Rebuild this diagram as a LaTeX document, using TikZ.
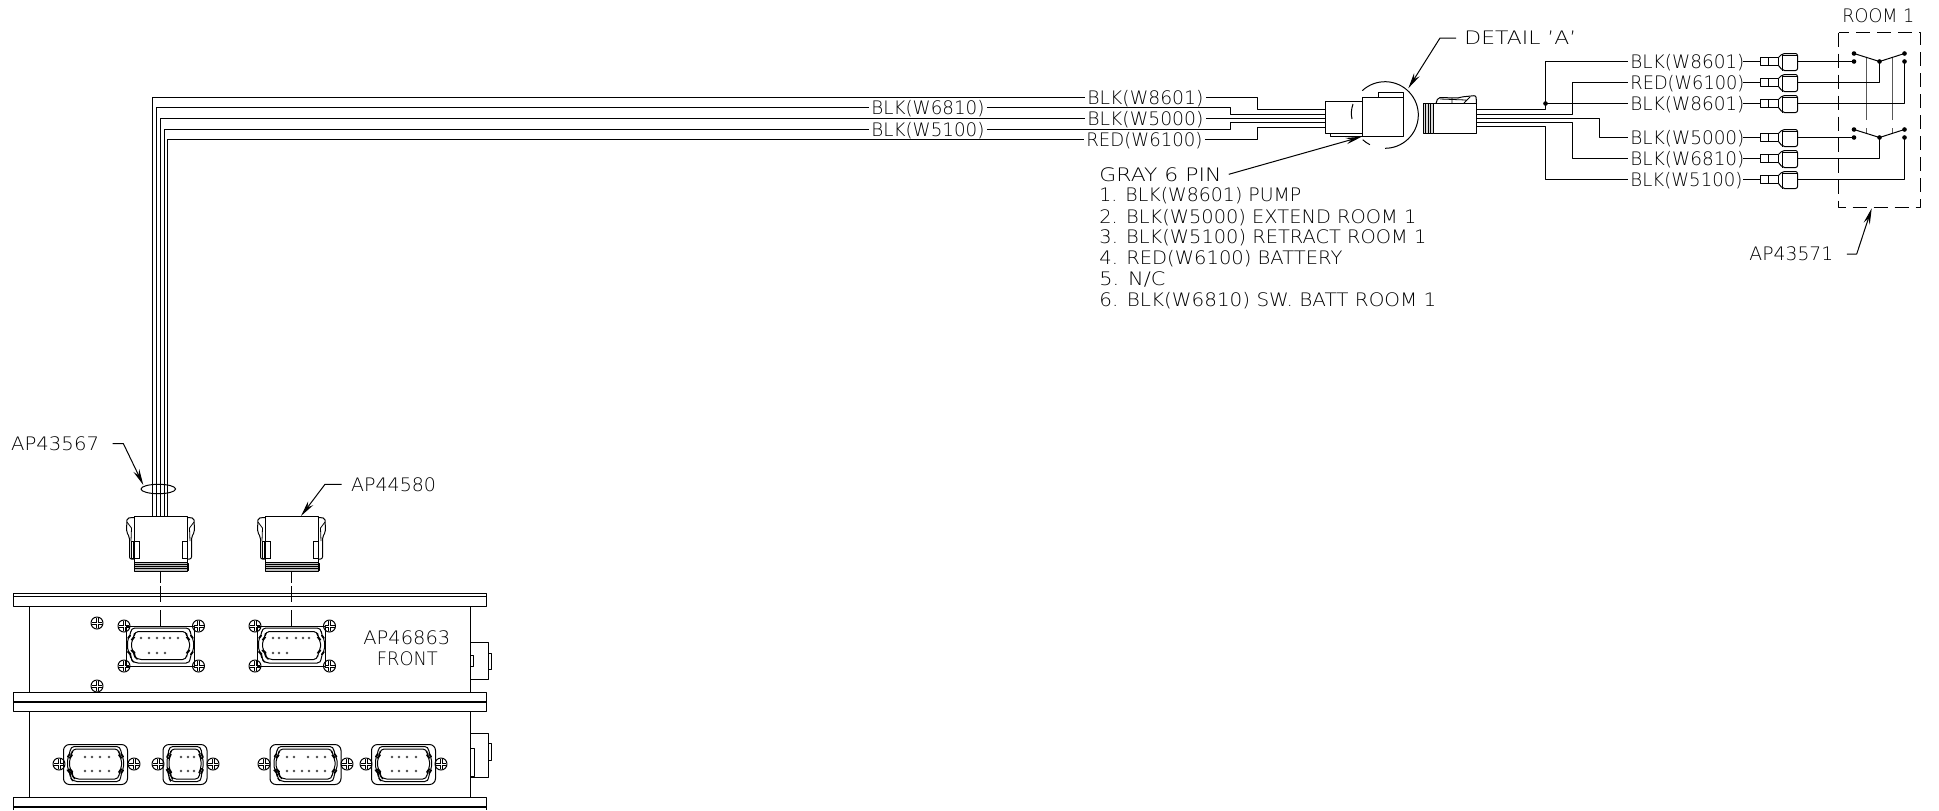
\documentclass[tikz,border=0pt]{standalone}
\usepackage{fontspec}
\usepackage{graphicx}
\setmainfont{DejaVu Sans ExtraLight}
\usetikzlibrary{arrows.meta}
\newlength\fitw
\newcommand\fit[2]{\setlength{\fitw}{\dimexpr #1pt/2\relax}\resizebox{\fitw}{\height}{#2}}
\tikzset{
 ln/.style={line width=0.5pt,line join=round},
 thin line/.style={line width=0.4pt},
 lbl/.style={inner sep=1pt,text height=6.75pt,text depth=0pt,anchor=west,xshift=-1pt,font=\fontsize{9.3}{10}\selectfont},
 leader/.style={ln,-{Stealth[length=8pt,width=3.2pt]}},
 pin/.style={fill=black!70,draw=none},
 jdot/.style={fill=black,draw=none},
 link/.style={line width=0.6pt,black!65},
 center dash/.style={ln},
}
% panel screw
\newcommand\screw[2]{%
 \draw[ln] (#1,#2) circle (6);
 \foreach \sx/\sy in {1/1,1/-1,-1/1,-1/-1}{
  \draw[thin line] (#1+\sx*5,#2+\sy*1) -- (#1+\sx*1,#2+\sy*1) -- (#1+\sx*1,#2+\sy*5);}
}
% contour in unit coordinates
\newcommand\contour[5]{% cx cy sx sy
 \begin{scope}[shift={(#1,#2)},xscale=#3,yscale=#4]
 \draw[ln,rounded corners=#5pt] (-.9,-1) -- (.9,-1) -- (.9,-.58) -- (1,-.42) -- (1,.36) -- (.9,.52) -- (.9,1) -- (-.8,1) -- (-.9,.78) -- (-.9,.48) -- (-1,.36) -- (-1,-.42) -- (-.9,-.58) -- cycle;
 \end{scope}}
% plug seen from the side
\newcommand\plug[1]{%
 \begin{scope}[shift={(#1,0)}]
 \draw[ln] (-26.5,516.5) rectangle (26.5,562.5);
 \draw[line width=.9pt] (-26.5,516.5) -- (26.5,516.5);
 \foreach \m in {-1,1}{
  \begin{scope}[xscale=\m]
  \draw[ln,rounded corners=1pt] (26.5,517.5) -- (33.5,518) -- (34,532) -- (31,537) -- (31,559) -- (26.5,559);
  \draw[thin line] (33.5,522) -- (29,528) -- (29.5,541);
  \draw[thin line] (21.5,541.5) rectangle (27,558.5);
  \end{scope}}
 \draw[ln] (-29.5,541.5) rectangle (-21.5,558.5);
 \draw[ln,fill=black!25] (-26.5,562.5) rectangle (26.5,571);
 \foreach \yy in {564.5,566.5,568.5}{\draw[ln] (-26.5,\yy) -- (26.5,\yy);}
 \draw[ln] (26.5,563) -- (27.5,563) -- (27.5,570) -- (26.5,570);
 \end{scope}}
% socket with plate on front panel
\newcommand\frontsock[1]{%
 \draw[ln] (#1-34,626.5) rectangle (#1+34,666.5);
 \contour{#1}{645.5}{33}{17.5}{2}
 \contour{#1}{645.5}{29}{14}{2}
 \screw{#1-36.5}{626}\screw{#1+38}{626}\screw{#1-36.5}{666}\screw{#1+38}{666}
}
% lower row socket
\newcommand\lowsock[7]{% cx halfwidth leftscrew rightscrew toppins botpins
 \draw[ln,rounded corners=3pt] (#1-#2,744.5) rectangle (#1+#2,784.5);
 \contour{#1}{764}{#2-4}{17.5}{2}
 \contour{#1}{764}{#2-6}{15}{2}
 \screw{#3}{764}\screw{#4}{764}
 \foreach \p in {#5}{\fill[pin] (\p,757) circle (1.4);}
 \foreach \p in {#6}{\fill[pin] (\p,771) circle (1.4);}
}
% terminal
\newcommand\term[1]{%
 \draw[ln] (1743,#1) -- (1760,#1);
 \draw[ln] (1760.5,#1-4) rectangle (1778.5,#1+4);
 \draw[ln] (1768.5,#1-4) -- (1768.5,#1+4);
 \draw[ln,rounded corners=1pt] (1778.5,#1-4) -- (1782.5,#1-8) -- (1797.5,#1-8) -- (1797.5,#1+9) -- (1782.5,#1+9) -- (1778.5,#1+4);
 \draw[ln] (1782.5,#1-8) -- (1782.5,#1+9);
 \draw[thin line] (1782.5,#1-6) -- (1797.5,#1-6);
}
\begin{document}
\begin{tikzpicture}[x=0.5pt,y=-0.5pt]
\useasboundingbox[fill=white] (0,0) rectangle (1939,810);

% ===== housing =====
\draw[ln] (13.5,593.5) rectangle (486.5,606.5);
\draw[ln] (13.5,596.5) -- (486.5,596.5);
\draw[ln] (29.5,606.5) -- (29.5,692.5) (470.5,606.5) -- (470.5,692.5);
\draw[ln] (13.5,692.5) rectangle (486.5,711.5);
\draw[line width=.8pt] (13.5,702) -- (486.5,702);
\draw[ln] (29.5,711.5) -- (29.5,797.5) (470.5,711.5) -- (470.5,797.5);
\draw[ln] (13.5,810) -- (13.5,797.5) -- (486.5,797.5) -- (486.5,810);
\draw[line width=.8pt] (13.5,807) -- (486.5,807);
% side fittings
\draw[ln] (470.5,642.5) -- (488.5,642.5) -- (488.5,679.5) -- (470.5,679.5);
\draw[ln] (488.5,653.5) -- (491.5,653.5) -- (491.5,669.5) -- (488.5,669.5);
\draw[ln] (470.5,655.5) rectangle (473.5,666.5);
\draw[ln] (470.5,733.5) -- (488.5,733.5) -- (488.5,777.5) -- (470.5,777.5);
\draw[ln] (488.5,743.5) -- (491.5,743.5) -- (491.5,760.5) -- (488.5,760.5);
\draw[ln] (470.5,748.5) rectangle (474.5,776.5);
\screw{97}{623}\screw{97}{686}

% front sockets
\frontsock{160.5}
\frontsock{291.5}
\foreach \p in {141,149,157,164,170,178}{\fill[pin] (\p,638) circle (1.4);}
\foreach \p in {149,157,165}{\fill[pin] (\p,653) circle (1.4);}
\foreach \p in {273,279,287,296,303,309}{\fill[pin] (\p,638) circle (1.4);}
\foreach \p in {273,279,287}{\fill[pin] (\p,653) circle (1.4);}

% lower sockets
\lowsock{95.5}{32}{59}{134}{85,92,100,109}{85,92,100,109}{}
\lowsock{185}{22}{158}{213}{181,188,194}{181,188,194}{}
\lowsock{305.5}{35.5}{264}{347}{287,294,308,317,325}{287,294,302,309,317,325}{}
\lowsock{403.5}{32}{366}{441}{392,399,407,416}{392,399,407,416}{}

% plugs and centre lines
\plug{160.5}
\plug{291.5}
\foreach \cx in {160.5,291.5}{
 \draw[center dash] (\cx,571) -- (\cx,583) (\cx,586) -- (\cx,602) (\cx,610) -- (\cx,626);
}
\draw[ln] (158.3,489) ellipse (17.3 and 4.7);

% ===== labels on the long harness =====
\node[lbl] (l8601) at (1087,97.5) {\fit{116}{BLK(W8601)}};
\node[lbl] (l5000) at (1087,118.5) {\fit{116}{BLK(W5000)}};
\node[lbl] (l6100) at (1086,139.5) {\fit{116}{RED(W6100)}};
\node[lbl] (l6810) at (871,107.5) {\fit{113}{BLK(W6810)}};
\node[lbl] (l5100) at (871,129.5) {\fit{113}{BLK(W5100)}};

% ===== detail connector =====
\coordinate (detc) at (1385,115);
\draw[ln] (1325.5,101.5) rectangle (1362.5,133.5);
\draw[ln] (1330.5,133.5) rectangle (1362.5,136.5);
\draw[ln] (1362.5,97.5) rectangle (1403.5,136.5);
\draw[ln] (1378.5,97.5) -- (1378.5,92.5) -- (1403.5,92.5) -- (1403.5,97.5);
\draw[ln] (1353,104) .. controls (1351,110) and (1351,114) .. (1352,119);
\draw[ln] ([shift={(227:33.3)}]detc) arc[start angle=227,end angle=450,radius=33.3];
\draw[ln] ([shift={(132:33.3)}]detc) arc[start angle=132,end angle=117,radius=33.3];

% wires, left part
\draw[ln] (152.5,516.5) -- (152.5,97.5) -- (l8601.west);
\draw[ln] (156.5,516.5) -- (156.5,107.5) -- (l6810.west);
\draw[ln] (160.5,516.5) -- (160.5,118.5) -- (l5000.west);
\draw[ln] (164.5,516.5) -- (164.5,129.5) -- (l5100.west);
\draw[ln] (167.5,516.5) -- (167.5,139.5) -- (l6100.west);
\draw[ln] (l8601.east) -- (1257.5,97.5) -- (1257.5,109.5) -- (1325.5,109.5);
\draw[ln] (l6810.east) -- (1230.5,107.5) -- (1230.5,114.5) -- (1325.5,114.5);
\draw[ln] (l5000.east) -- (1325.5,118.5);
\draw[ln] (l5100.east) -- (1230.5,129.5) -- (1230.5,122.5) -- (1325.5,122.5);
\draw[ln] (l6100.east) -- (1257.5,139.5) -- (1257.5,127.5) -- (1325.5,127.5);

% ===== mating connector =====
\draw[ln] (1433.5,103.5) rectangle (1476.5,133.5);
\draw[ln,fill=black!15] (1423.5,103.5) rectangle (1433.5,133.5);
\foreach \xx in {1425.5,1428,1430.5}{\draw[ln] (\xx,103) -- (\xx,134);}
\draw[ln,rounded corners=1pt] (1436,103.5) -- (1438,97.5) -- (1458,98) (1458,98) -- (1461,97) -- (1476,95.5) -- (1476.5,103.5);
\draw[thin line] (1440,99) -- (1466,100) (1452,98) -- (1452,103) (1464,103) -- (1470,97);

% ===== right labels =====
\node[lbl] (r1) at (1630,61.5) {\fit{114}{BLK(W8601)}};
\node[lbl] (r2) at (1630,82.5) {\fit{114}{RED(W6100)}};
\node[lbl] (r3) at (1630,103.5) {\fit{114}{BLK(W8601)}};
\node[lbl] (r4) at (1630,137.5) {\fit{114}{BLK(W5000)}};
\node[lbl] (r5) at (1630,158.5) {\fit{114}{BLK(W6810)}};
\node[lbl] (r6) at (1630,179.5) {\fit{112}{BLK(W5100)}};

\coordinate (j1) at (1545.5,103.5);
\draw[ln] (1476.5,109.5) -- (1545.5,109.5) -- (1545.5,61.5) -- (r1.west);
\draw[ln] (j1) -- (r3.west);
\fill[jdot] (j1) circle (2.3);
\draw[ln] (1476.5,114.5) -- (1572.5,114.5) -- (1572.5,82.5) -- (r2.west);
\draw[ln] (1476.5,118.5) -- (1599.5,118.5) -- (1599.5,137.5) -- (r4.west);
\draw[ln] (1476.5,122.5) -- (1572.5,122.5) -- (1572.5,158.5) -- (r5.west);
\draw[ln] (1476.5,126.5) -- (1545.5,126.5) -- (1545.5,179.5) -- (r6.west);

\term{61.5}\term{82.5}\term{103.5}\term{137.5}\term{158.5}\term{179.5}

% ===== room switch =====
\draw[ln,dash pattern=on 7pt off 3.5pt] (1838.5,32.5) rectangle (1920.5,207.5);
\draw[link] (1866.5,58) -- (1866.5,120) (1866.5,128) -- (1866.5,133);
\draw[link] (1892.5,58) -- (1892.5,120) (1892.5,128) -- (1892.5,133);
\foreach \sw/\wa/\wb in {0/82.5/103.5,75/158.5/179.5}{
 \foreach \dx/\dy in {1854/53.5,1854/61.5,1904.5/53.5,1904.5/61.5,1879.5/61.5}{
  \fill[jdot] (\dx,\dy+\sw+\sw/75) circle (2.3);}
 \draw[ln] (1854,53.5+\sw+\sw/75) -- (1879.5,61.5+\sw+\sw/75) -- (1904.5,53.5+\sw+\sw/75);
 \draw[ln] (1797.5,\wa) -- (1879.5,\wa) -- (1879.5,61.5+\sw+\sw/75);
 \draw[ln] (1797.5,\wb) -- (1904.5,\wb) -- (1904.5,61.5+\sw+\sw/75);
 \draw[ln] (1797.5,61.5+\sw+\sw/75) -- (1854,61.5+\sw+\sw/75);
}

% ===== free texts and leaders =====
\node[lbl] (room) at (1842,15.7) {\fit{72}{ROOM 1}};
\node[lbl] (detail) at (1464,38) {\fit{112}{DETAIL 'A'}};
\node[lbl] (ap71) at (1749,254) {\fit{84}{AP43571}};
\node[lbl] (ap67) at (10.7,443.5) {\fit{88}{AP43567}};
\node[lbl] (ap80) at (350.7,484.3) {\fit{85}{AP44580}};
\node[lbl] (ap63) at (363,638) {\fit{87}{AP46863}};
\node[lbl] (front) at (376.5,659) {\fit{61}{FRONT}};

\node[lbl] (gray) at (1099,174.3) {\fit{122}{GRAY 6 PIN}};
\node[lbl] (t1) at (1099,195) {\fit{202}{1. BLK(W8601) PUMP}};
\node[lbl] (t2) at (1099,216.7) {\fit{317}{2. BLK(W5000) EXTEND ROOM 1}};
\node[lbl] (t3) at (1099,237) {\fit{327}{3. BLK(W5100) RETRACT ROOM 1}};
\node[lbl] (t4) at (1099,258) {\fit{243}{4. RED(W6100) BATTERY}};
\node[lbl] (t5) at (1099,279) {\fit{66}{5. N/C}};
\node[lbl] (t6) at (1099,300) {\fit{337}{6. BLK(W6810) SW. BATT ROOM 1}};

\draw[leader] (detail.west) ++(-6,0) -- (1440,38) -- (1408.3,88.3);
\draw[leader] (gray.east) ++(5,0) -- (1361.7,136.7);
\draw[leader] (ap71.east) ++(11,0) -- (1856.7,254) -- (1871.7,208.3);
\draw[leader] (ap67.east) ++(11,0) -- (123.3,443.5) -- (143.3,485);
\draw[leader] (ap80.west) ++(-7,0) -- (325,484.3) -- (301,516);
\end{tikzpicture}
\end{document}
